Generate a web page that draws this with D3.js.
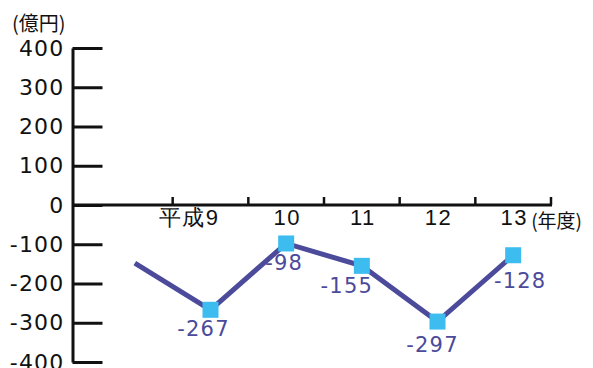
<!DOCTYPE html>
<html>
<head>
<meta charset="utf-8">
<script src="https://cdn.jsdelivr.net/npm/d3@7"></script>
<style>
  html, body { margin: 0; padding: 0; background: #fff; }
  svg { display: block; font-family: "DejaVu Sans", "Noto Sans CJK JP", sans-serif; }
</style>
</head>
<body>
<svg id="chart" width="593" height="368"></svg>
<script>
// Fiscal years (平成) and yearly balance in 億円
const years = [8, 9, 10, 11, 12, 13];
const values = [-148, -267, -98, -155, -297, -128];
const labelledYears = [9, 10, 11, 12, 13];
const yTicks = [-400, -300, -200, -100, 0, 100, 200, 300, 400];
const yearLabel = d => (d === 9 ? "平成" + d : String(d));

// Value label offsets (dx, dy) relative to each marker
const labelOffsets = [[0, 0], [-7, 26], [-2, 27], [-15, 27], [-5, 30], [7, 33]];

const ink = "#111";
const lineColor = "#4b4a9b";
const markerColor = "#3dbcef";

const svg = d3.select("#chart");
const axisX = 72.5;

const y = d3.scaleLinear().domain([-400, 400]).range([362, 48]);
const x = d3.scaleBand().domain(years).range([97, 551]).padding(0);
const cx = d => x(d) + x.bandwidth() / 2;
const y0 = y(0);

// unit caption
svg.append("text")
  .attr("x", 12).attr("y", 31)
  .attr("font-size", 20).attr("fill", ink)
  .attr("font-family", "Noto Sans CJK JP, sans-serif")
  .text("(億円)");

// vertical axis with ticks pointing right
const yAxis = svg.append("g")
  .attr("transform", `translate(${axisX},0)`)
  .call(d3.axisLeft(y).tickValues(yTicks).tickSize(-30).tickSizeOuter(0).tickPadding(8).tickFormat(d => String(d)));
yAxis.select(".domain").attr("stroke", ink).attr("stroke-width", 3);
yAxis.selectAll(".tick line").attr("stroke", ink).attr("stroke-width", 3);
yAxis.selectAll(".tick text")
  .attr("font-size", 22).attr("fill", ink)
  .attr("letter-spacing", 1.2)
  .attr("font-family", "DejaVu Sans, sans-serif");

// zero baseline
svg.append("line")
  .attr("x1", axisX).attr("x2", x.range()[1] + 1)
  .attr("y1", y0).attr("y2", y0)
  .attr("stroke", ink).attr("stroke-width", 3);

// category boundary ticks (upward)
svg.append("g").selectAll("line")
  .data(years)
  .join("line")
  .attr("x1", d => x(d) + x.bandwidth())
  .attr("x2", d => x(d) + x.bandwidth())
  .attr("y1", y0).attr("y2", y0 - 8)
  .attr("stroke", ink).attr("stroke-width", 2.5);

// year labels below the baseline
const xAxis = svg.append("g")
  .attr("transform", `translate(0,${y0})`)
  .call(d3.axisBottom(x).tickValues(labelledYears).tickSize(0).tickFormat(yearLabel));
xAxis.select(".domain").remove();
xAxis.selectAll(".tick text")
  .attr("font-size", 22).attr("fill", ink)
  .attr("letter-spacing", 1.5)
  .attr("y", 20).attr("dy", 0)
  .attr("text-anchor", d => (d === 9 ? "end" : "middle"))
  .attr("x", d => (d === 9 ? 9 : 1));

// axis unit for the years
svg.append("text")
  .attr("x", cx(13) + 18).attr("y", 228)
  .attr("font-size", 19).attr("fill", ink)
  .attr("font-family", "Noto Sans CJK JP, sans-serif")
  .text("(年度)");

const points = years.map((d, i) => ({ year: d, value: values[i], off: labelOffsets[i] }));
const shown = points.filter(p => labelledYears.includes(p.year));

// value labels
svg.append("g").selectAll("text")
  .data(shown)
  .join("text")
  .attr("x", p => cx(p.year) + p.off[0])
  .attr("y", p => y(p.value) + p.off[1])
  .attr("text-anchor", "middle")
  .attr("font-size", 21)
  .attr("letter-spacing", 1.2)
  .attr("fill", lineColor)
  .text(p => String(p.value));

// balance line
svg.append("path")
  .datum(points)
  .attr("fill", "none")
  .attr("stroke", lineColor)
  .attr("stroke-width", 5)
  .attr("d", d3.line().x(p => cx(p.year)).y(p => y(p.value)));

// square markers
const size = 16;
svg.append("g").selectAll("rect")
  .data(shown)
  .join("rect")
  .attr("x", p => cx(p.year) - size / 2)
  .attr("y", p => y(p.value) - size / 2)
  .attr("width", size).attr("height", size)
  .attr("fill", markerColor);
</script>
</body>
</html>
